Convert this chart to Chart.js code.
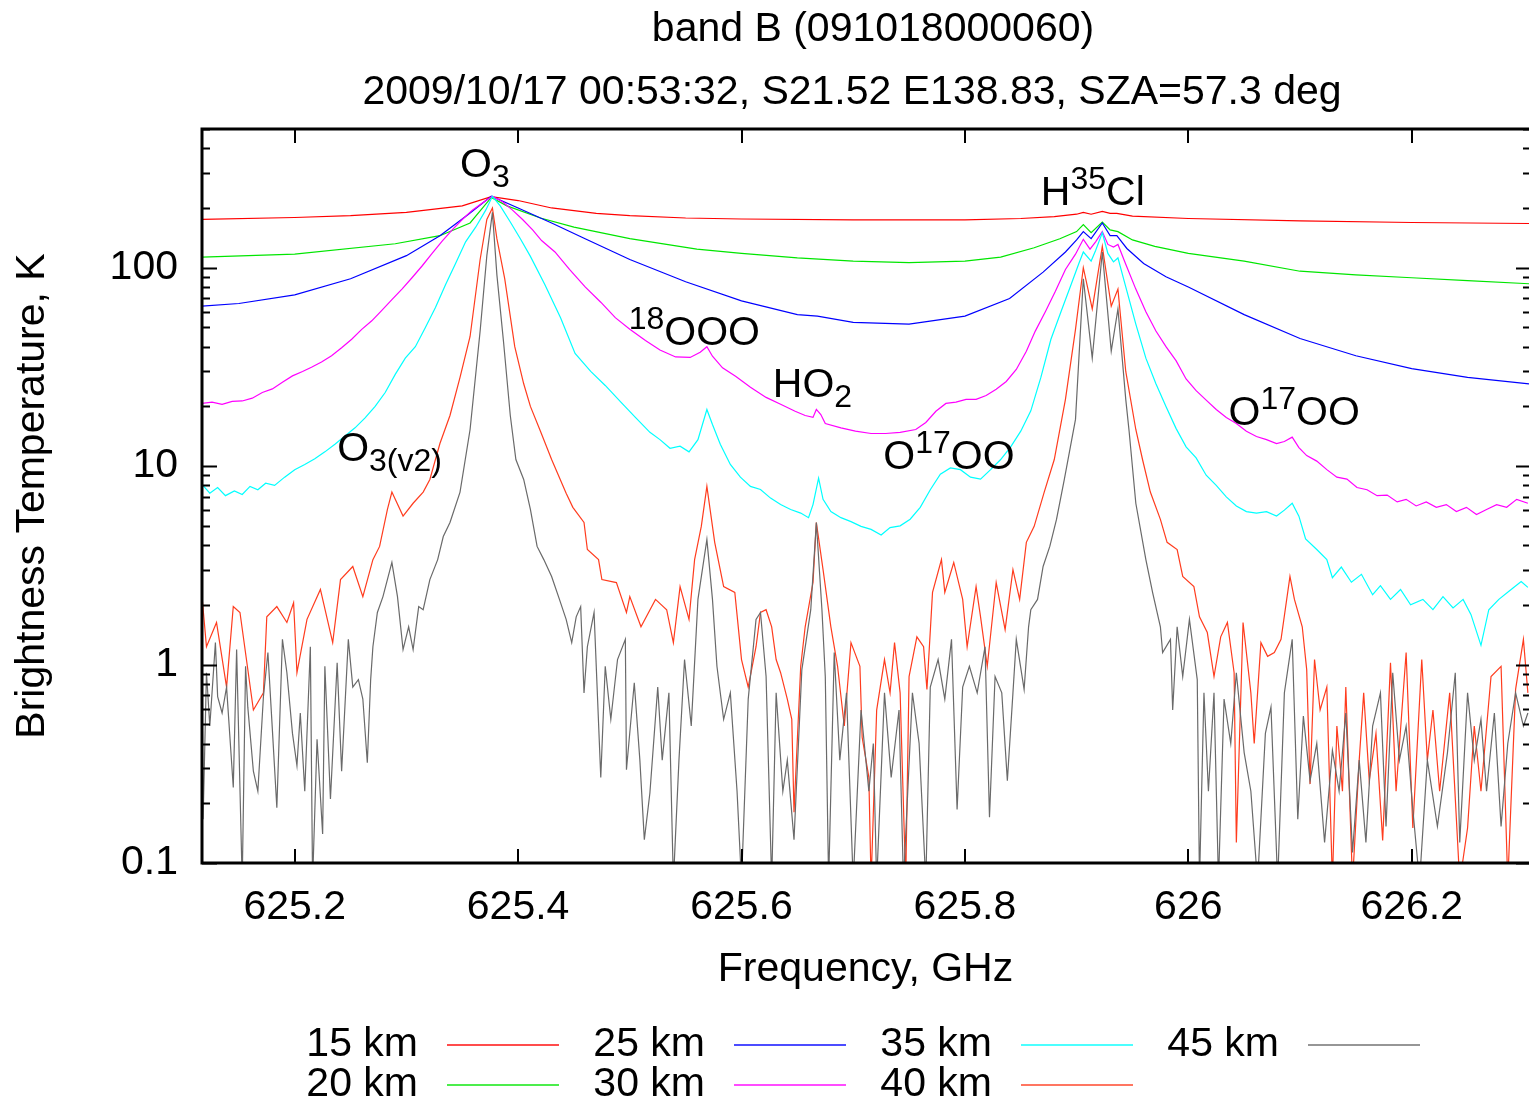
<!DOCTYPE html>
<html>
<head>
<meta charset="utf-8">
<title>band B (091018000060)</title>
<script src="https://cdn.jsdelivr.net/npm/chart.js@4.4.1/dist/chart.umd.min.js"></script>
<style>
  html, body { margin: 0; padding: 0; background: #fff; overflow: hidden; }
  #wrap { position: relative; width: 1529px; height: 1101px; }
</style>
</head>
<body>
<div id="wrap"><canvas id="spectrum" width="1529" height="1101"></canvas></div>
<script>
// --- values (frequency in GHz, Tb in K) ---
const titleLines = ['band B (091018000060)', '2009/10/17 00:53:32, S21.52 E138.83, SZA=57.3 deg'];
const altitudes = ['15 km', '20 km', '25 km', '30 km', '35 km', '40 km', '45 km'];
const lineColors = ['#ff0000', '#00e600', '#0000ff', '#ff00ff', '#00ffff', '#ff3c1e', '#6a6a6a'];
const xTickValues = [625.2, 625.4, 625.6, 625.8, 626.0, 626.2];
const yTickValues = [0.1, 1, 10, 100];

const freq15 = [625.117, 625.2, 625.25, 625.3, 625.35, 625.376, 625.4, 625.43, 625.47, 625.5, 625.55, 625.6, 625.7, 625.8, 625.85, 625.88, 625.9, 625.906, 625.913, 625.923, 625.93, 625.936, 625.95, 626.0, 626.1, 626.2, 626.305];
const tb15 = [175, 179, 183, 190, 205, 228, 218, 200, 188, 183, 178, 176, 174, 174, 177, 181, 186, 190, 186, 192, 188, 188, 182, 177, 172, 169, 167];

const freq20 = [625.117, 625.2, 625.29, 625.33, 625.357, 625.376, 625.39, 625.42, 625.45, 625.5, 625.56, 625.6, 625.65, 625.7, 625.75, 625.8, 625.832, 625.862, 625.885, 625.9, 625.906, 625.913, 625.923, 625.93, 625.937, 625.95, 625.97, 626.0, 626.05, 626.1, 626.15, 626.2, 626.25, 626.305];
const tb20 = [113, 117, 132, 145, 168, 226, 205, 178, 160, 140, 124, 118, 112, 108, 106, 108, 113, 126, 140, 152, 165, 150, 170, 155, 152, 138, 128, 118, 108, 96, 92, 89, 86, 83];

const freq25 = [625.117, 625.15, 625.2, 625.25, 625.3, 625.33, 625.355, 625.376, 625.4, 625.43, 625.46, 625.5, 625.55, 625.6, 625.65, 625.668, 625.7, 625.75, 625.8, 625.84, 625.87, 625.89, 625.9, 625.906, 625.913, 625.923, 625.93, 625.936, 625.945, 625.96, 625.98, 626.0, 626.05, 626.1, 626.15, 626.2, 626.25, 626.305];
const tb25 = [64, 66, 73, 88, 115, 145, 185, 229, 200, 168, 140, 110, 85, 68, 58, 57, 53, 52, 57, 70, 95, 120, 138, 152, 140, 168, 145, 145, 125, 105, 90, 80, 58, 44, 36, 31, 28, 26];

const freq30 = [625.117, 625.126, 625.135, 625.144, 625.153, 625.162, 625.171, 625.18, 625.189, 625.198, 625.207, 625.215, 625.224, 625.233, 625.242, 625.251, 625.26, 625.269, 625.278, 625.287, 625.296, 625.305, 625.314, 625.323, 625.332, 625.341, 625.35, 625.359, 625.368, 625.377, 625.386, 625.395, 625.404, 625.413, 625.421, 625.433, 625.446, 625.46, 625.474, 625.487, 625.5, 625.514, 625.527, 625.541, 625.554, 625.563, 625.569, 625.574, 625.583, 625.595, 625.608, 625.622, 625.635, 625.648, 625.657, 625.664, 625.667, 625.671, 625.675, 625.689, 625.702, 625.716, 625.729, 625.742, 625.756, 625.765, 625.774, 625.783, 625.792, 625.801, 625.81, 625.819, 625.828, 625.837, 625.846, 625.855, 625.863, 625.872, 625.881, 625.89, 625.899, 625.906, 625.912, 625.917, 625.923, 625.928, 625.933, 625.937, 625.944, 625.953, 625.962, 625.971, 625.98, 625.989, 625.998, 626.007, 626.016, 626.025, 626.034, 626.043, 626.052, 626.061, 626.07, 626.079, 626.086, 626.093, 626.099, 626.106, 626.115, 626.124, 626.133, 626.142, 626.151, 626.16, 626.169, 626.178, 626.187, 626.195, 626.204, 626.213, 626.222, 626.231, 626.24, 626.249, 626.258, 626.267, 626.276, 626.285, 626.294, 626.304];
const tb30 = [20.7, 21.0, 20.5, 21.2, 21.3, 22, 23.5, 24.5, 26.5, 28.5, 30, 31.5, 33.5, 36, 39.5, 43.6, 48.9, 54, 61, 69, 78, 89, 102, 118, 136, 155, 175, 195, 212, 229, 215, 195, 175, 155, 137, 120, 98, 80, 67, 56, 49, 43, 38.5, 35.5, 35.3, 37.5, 40, 35.8, 31.3, 28.3, 25, 22.2, 20.5, 18.9, 18, 17.6, 19.3, 18.2, 16.4, 15.6, 15.0, 14.6, 14.6, 14.8, 15.3, 16.6, 18.9, 20.7, 21, 21.7, 21.7, 22.7, 24.4, 26.7, 30.7, 37.9, 47.9, 60, 76, 98, 117, 139, 124, 135, 152, 131, 127, 131, 104, 78, 60, 48, 40, 34, 27.5, 24, 21.5, 19.3, 17.6, 16.4, 15, 14.1, 13.6, 13, 13.3, 14, 12.4, 11.3, 10.6, 9.6, 8.8, 8.6, 7.8, 7.6, 7.1, 7.15, 6.6, 6.8, 6.3, 6.6, 6.2, 6.4, 5.9, 6.2, 5.7, 6.05, 6.4, 6.2, 6.8, 6.5];

const freq35 = [625.117, 625.124, 625.131, 625.138, 625.146, 625.153, 625.16, 625.167, 625.174, 625.182, 625.191, 625.2, 625.209, 625.218, 625.227, 625.236, 625.245, 625.254, 625.263, 625.272, 625.281, 625.29, 625.299, 625.308, 625.317, 625.326, 625.335, 625.344, 625.353, 625.362, 625.371, 625.377, 625.384, 625.393, 625.402, 625.411, 625.424, 625.438, 625.451, 625.465, 625.478, 625.492, 625.505, 625.518, 625.527, 625.536, 625.545, 625.553, 625.561, 625.569, 625.574, 625.581, 625.59, 625.599, 625.608, 625.617, 625.626, 625.635, 625.644, 625.653, 625.66, 625.664, 625.669, 625.673, 625.68, 625.689, 625.698, 625.707, 625.716, 625.725, 625.733, 625.742, 625.751, 625.76, 625.769, 625.778, 625.787, 625.796, 625.805, 625.814, 625.823, 625.832, 625.841, 625.85, 625.859, 625.868, 625.877, 625.886, 625.895, 625.902, 625.906, 625.913, 625.917, 625.923, 625.928, 625.933, 625.937, 625.944, 625.953, 625.962, 625.971, 625.98, 625.989, 625.998, 626.007, 626.016, 626.025, 626.034, 626.043, 626.052, 626.061, 626.07, 626.079, 626.086, 626.093, 626.099, 626.105, 626.115, 626.124, 626.129, 626.137, 626.146, 626.155, 626.165, 626.172, 626.181, 626.19, 626.199, 626.21, 626.219, 626.228, 626.237, 626.246, 626.253, 626.262, 626.269, 626.278, 626.289, 626.298, 626.304];
const tb35 = [8.1, 7.3, 7.8, 7.1, 7.5, 7.2, 7.9, 7.6, 8.2, 8.0, 8.8, 9.6, 10.2, 10.9, 11.8, 12.9, 14.2, 15.6, 17.5, 20.0, 23.5, 29, 35, 40, 50, 63, 82, 105, 135, 160, 195, 229, 205, 170, 140, 114, 82, 56, 37, 30, 25.5, 21, 17.6, 14.8, 13.6, 12.3, 12.6, 11.8, 13.6, 19.3, 16.2, 12.9, 10.2, 8.8, 7.9, 7.63, 6.9, 6.4, 6.05, 5.8, 5.5, 6.4, 8.7, 6.8, 5.9, 5.5, 5.25, 4.97, 4.8, 4.5, 4.9, 5.0, 5.4, 6.2, 7.6, 9.1, 9.8, 9.6, 8.8, 8.6, 9.6, 10.8, 12.5, 15, 19, 28, 43.6, 60, 82, 105, 120, 108, 122, 150, 118, 107, 112, 80, 52, 35, 26, 20, 15.5, 12.5, 11, 9.0, 8.0, 7.0, 6.3, 5.9, 5.8, 5.9, 5.6, 6.0, 6.5, 5.6, 4.3, 3.8, 3.38, 2.74, 3.1, 2.6, 2.85, 2.25, 2.5, 2.13, 2.39, 2.0, 2.13, 1.89, 2.2, 1.93, 2.13, 1.79, 1.25, 1.89, 2.13, 2.39, 2.62, 2.45];

const freq40 = [625.117, 625.121, 625.130, 625.139, 625.145, 625.151, 625.163, 625.172, 625.175, 625.184, 625.193, 625.199, 625.202, 625.211, 625.223, 625.234, 625.241, 625.252, 625.261, 625.270, 625.276, 625.283, 625.287, 625.297, 625.306, 625.315, 625.321, 625.330, 625.339, 625.348, 625.357, 625.366, 625.372, 625.377, 625.381, 625.388, 625.397, 625.405, 625.411, 625.420, 625.430, 625.443, 625.449, 625.459, 625.462, 625.472, 625.475, 625.488, 625.497, 625.500, 625.510, 625.523, 625.533, 625.539, 625.545, 625.553, 625.558, 625.564, 625.569, 625.576, 625.584, 625.594, 625.600, 625.606, 625.613, 625.617, 625.622, 625.627, 625.631, 625.635, 625.641, 625.645, 625.647, 625.653, 625.657, 625.664, 625.667, 625.673, 625.680, 625.686, 625.692, 625.698, 625.706, 625.708, 625.714, 625.716, 625.721, 625.728, 625.733, 625.737, 625.742, 625.747, 625.750, 625.757, 625.763, 625.766, 625.771, 625.779, 625.782, 625.790, 625.798, 625.802, 625.810, 625.814, 625.820, 625.828, 625.836, 625.843, 625.849, 625.855, 625.862, 625.871, 625.880, 625.890, 625.899, 625.906, 625.914, 625.923, 625.931, 625.937, 625.944, 625.953, 625.959, 625.966, 625.975, 625.981, 625.990, 625.995, 626.005, 626.010, 626.017, 626.023, 626.029, 626.035, 626.041, 626.043, 626.049, 626.056, 626.059, 626.065, 626.071, 626.077, 626.083, 626.091, 626.095, 626.102, 626.106, 626.109, 626.113, 626.118, 626.124, 626.129, 626.133, 626.138, 626.141, 626.147, 626.153, 626.157, 626.162, 626.168, 626.174, 626.181, 626.186, 626.195, 626.201, 626.209, 626.214, 626.219, 626.225, 626.234, 626.243, 626.250, 626.256, 626.262, 626.271, 626.280, 626.286, 626.293, 626.300, 626.304];
const tb40 = [2.2, 1.23, 1.63, 0.77, 1.96, 1.83, 0.59, 0.72, 1.74, 1.96, 1.63, 2.05, 0.91, 1.69, 2.39, 1.29, 2.68, 3.12, 2.2, 3.38, 3.94, 6.05, 7.4, 5.6, 6.5, 7.4, 8.57, 13, 18, 28, 45, 110, 175, 200, 140, 88, 40, 26, 20, 15, 10.8, 7.3, 6.2, 5.2, 3.8, 3.38, 2.68, 2.59, 1.83, 2.2, 1.55, 2.13, 1.89, 1.29, 2.47, 1.69, 3.38, 4.97, 7.9, 4.13, 2.47, 2.31, 1.06, 0.77, 1.23, 1.83, 1.89, 1.55, 1.06, 0.91, 0.67, 0.53, 0.18, 0.98, 1.55, 2.59, 5.2, 3.01, 1.55, 0.98, 0.49, 1.29, 0.98, 0.43, 0.27, 0.08, 0.59, 1.06, 0.72, 1.29, 0.72, 0.08, 0.87, 1.38, 1.23, 0.75, 2.31, 3.38, 2.31, 3.27, 2.13, 1.23, 2.47, 1.74, 0.98, 2.59, 1.5, 3.01, 2.13, 4.13, 4.97, 7.4, 10.8, 21.7, 48.9, 100, 62, 128, 64, 78, 30, 15.3, 10.8, 7.4, 5.39, 4.13, 3.8, 2.78, 2.47, 1.74, 1.45, 0.87, 1.38, 1.63, 0.91, 0.127, 1.63, 0.72, 0.40, 1.29, 1.10, 1.15, 1.34, 2.78, 2.13, 1.55, 0.94, 0.25, 1.06, 0.59, 0.77, 0.08, 0.49, 0.23, 0.77, 0.08, 0.33, 0.72, 0.26, 0.45, 0.13, 1.02, 0.23, 1.15, 0.15, 1.06, 0.33, 0.59, 0.23, 0.72, 0.08, 0.15, 0.49, 0.23, 0.87, 0.98, 0.08, 0.75, 1.34, 0.72];

const freq45 = [625.117, 625.118, 625.121, 625.124, 625.129, 625.131, 625.135, 625.139, 625.145, 625.148, 625.153, 625.156, 625.158, 625.163, 625.167, 625.172, 625.176, 625.180, 625.184, 625.189, 625.193, 625.198, 625.202, 625.205, 625.209, 625.214, 625.216, 625.220, 625.225, 625.227, 625.232, 625.238, 625.242, 625.248, 625.252, 625.257, 625.261, 625.265, 625.268, 625.270, 625.274, 625.279, 625.287, 625.292, 625.297, 625.302, 625.306, 625.311, 625.315, 625.321, 625.328, 625.333, 625.339, 625.348, 625.357, 625.366, 625.372, 625.377, 625.381, 625.387, 625.393, 625.398, 625.405, 625.411, 625.417, 625.423, 625.430, 625.437, 625.443, 625.448, 625.452, 625.456, 625.459, 625.462, 625.468, 625.474, 625.478, 625.483, 625.489, 625.496, 625.497, 625.504, 625.509, 625.513, 625.518, 625.525, 625.529, 625.535, 625.539, 625.544, 625.549, 625.555, 625.561, 625.569, 625.574, 625.578, 625.584, 625.590, 625.596, 625.600, 625.606, 625.613, 625.617, 625.622, 625.627, 625.631, 625.637, 625.641, 625.647, 625.654, 625.662, 625.667, 625.672, 625.675, 625.678, 625.683, 625.688, 625.694, 625.700, 625.707, 625.714, 625.718, 625.721, 625.728, 625.734, 625.741, 625.745, 625.753, 625.759, 625.765, 625.769, 625.776, 625.782, 625.788, 625.793, 625.798, 625.804, 625.811, 625.818, 625.822, 625.827, 625.833, 625.838, 625.843, 625.846, 625.853, 625.857, 625.859, 625.865, 625.870, 625.876, 625.882, 625.889, 625.899, 625.906, 625.914, 625.923, 625.931, 625.937, 625.944, 625.947, 625.953, 625.962, 625.968, 625.975, 625.977, 625.984, 625.986, 625.990, 625.995, 626.001, 626.008, 626.010, 626.014, 626.018, 626.023, 626.027, 626.032, 626.038, 626.043, 626.050, 626.056, 626.062, 626.069, 626.074, 626.080, 626.086, 626.093, 626.098, 626.103, 626.109, 626.115, 626.122, 626.129, 626.135, 626.141, 626.147, 626.153, 626.159, 626.165, 626.172, 626.177, 626.183, 626.189, 626.195, 626.201, 626.207, 626.214, 626.223, 626.232, 626.239, 626.243, 626.250, 626.256, 626.262, 626.267, 626.274, 626.280, 626.286, 626.293, 626.300, 626.304];
const tb45 = [0.87, 0.166, 0.91, 0.49, 1.29, 0.69, 0.57, 0.77, 0.24, 1.19, 0.08, 0.98, 0.61, 0.29, 0.23, 0.69, 1.15, 0.47, 0.19, 1.34, 0.91, 0.45, 0.31, 0.57, 0.23, 1.23, 0.08, 0.42, 0.14, 0.98, 0.21, 1.02, 0.29, 1.34, 0.77, 0.84, 0.67, 0.32, 0.84, 1.23, 1.83, 2.2, 3.27, 2.2, 1.19, 1.55, 1.19, 1.96, 1.89, 2.68, 3.38, 4.42, 5.2, 7.4, 15.3, 48, 115, 190, 92, 42, 18, 10.8, 8.57, 6.05, 3.94, 3.38, 2.78, 2.13, 1.69, 1.29, 1.74, 1.96, 0.72, 1.23, 1.83, 0.27, 0.98, 0.53, 1.06, 1.34, 0.295, 0.81, 0.33, 0.131, 0.226, 0.77, 0.33, 0.72, 0.08, 0.33, 1.06, 0.49, 2.13, 4.27, 2.13, 0.98, 0.53, 0.72, 0.23, 0.08, 0.67, 1.69, 1.83, 0.87, 0.08, 0.72, 0.23, 0.33, 0.131, 0.94, 1.89, 5.2, 1.89, 0.87, 0.08, 1.15, 0.33, 0.72, 0.08, 0.59, 0.23, 0.40, 0.08, 0.72, 0.27, 0.59, 0.08, 0.72, 0.40, 0.08, 0.77, 1.06, 0.67, 1.34, 0.186, 0.77, 0.98, 0.72, 1.23, 0.17, 0.87, 0.72, 0.26, 0.72, 1.34, 0.75, 1.55, 1.89, 2.13, 3.12, 3.94, 5.39, 8.57, 17.2, 88, 35, 120, 38, 62, 21.7, 15, 6.5, 3.38, 2.31, 1.55, 1.15, 1.34, 0.59, 1.55, 0.87, 1.69, 0.84, 0.08, 0.72, 0.23, 0.72, 0.08, 0.67, 0.40, 0.91, 0.36, 0.23, 0.08, 0.45, 0.61, 0.08, 0.72, 1.34, 0.166, 0.55, 0.26, 0.40, 0.127, 0.37, 0.23, 0.57, 0.113, 0.33, 0.127, 0.49, 0.72, 0.153, 0.91, 0.33, 0.49, 0.186, 0.08, 0.33, 0.153, 0.36, 0.91, 0.127, 0.72, 0.33, 0.53, 0.23, 0.57, 0.153, 0.40, 0.72, 0.49, 0.57];

// line labels: anchor (GHz, K) at the text baseline start; parts: 0 normal, 1 superscript, -1 subscript
const lineLabels = [
  { f: 625.348, t: 286, parts: [['O', 0], ['3', -1]] },
  { f: 625.868, t: 206, parts: [['H', 0], ['35', 1], ['Cl', 0]] },
  { f: 625.499, t: 41, parts: [['18', 1], ['OOO', 0]] },
  { f: 625.628, t: 22.2, parts: [['HO', 0], ['2', -1]] },
  { f: 625.238, t: 10.6, parts: [['O', 0], ['3(v2)', -1]] },
  { f: 625.727, t: 9.63, parts: [['O', 0], ['17', 1], ['OO', 0]] },
  { f: 626.036, t: 16.2, parts: [['O', 0], ['17', 1], ['OO', 0]] }
];

const FONT = '"Liberation Sans", Arial, Helvetica, sans-serif';
Chart.defaults.font.family = FONT;
Chart.defaults.font.size = 41;
Chart.defaults.color = '#000';

const zip = (fs, ts) => fs.map((f, i) => ({ x: f, y: ts[i] }));
const series = [
  zip(freq15, tb15), zip(freq20, tb20), zip(freq25, tb25), zip(freq30, tb30),
  zip(freq35, tb35), zip(freq40, tb40), zip(freq45, tb45)
];

// frame (right edge falls outside the picture) and inward ticks, gnuplot style
const frameTicks = {
  id: 'frameTicks',
  afterDatasetsDraw(chart) {
    const { ctx, chartArea: a, scales: { x, y } } = chart;
    ctx.save();
    ctx.strokeStyle = '#000';
    ctx.lineWidth = 2;
    ctx.beginPath();
    for (let dec = 0.1; dec < 1000; dec *= 10) {
      for (let m = 1; m <= 9; m++) {
        const v = dec * m;
        if (v < y.min || v > y.max + 1e-9) continue;
        const py = Math.round(y.getPixelForValue(v)) + 0.5;
        const len = m === 1 ? 15 : 8;
        ctx.moveTo(a.left, py); ctx.lineTo(a.left + len, py);
        ctx.moveTo(a.right + 2, py); ctx.lineTo(a.right + 2 - len, py);
      }
    }
    xTickValues.forEach(v => {
      const px = Math.round(x.getPixelForValue(v));
      ctx.moveTo(px, a.bottom); ctx.lineTo(px, a.bottom - 14);
      ctx.moveTo(px, a.top); ctx.lineTo(px, a.top + 14);
    });
    ctx.stroke();
    ctx.lineWidth = 3;
    ctx.beginPath();
    ctx.moveTo(a.right + 5, a.top);
    ctx.lineTo(a.left, a.top);
    ctx.lineTo(a.left, a.bottom);
    ctx.lineTo(a.right + 5, a.bottom);
    ctx.stroke();
    ctx.restore();
  }
};

// molecule labels on the lines
const moleculeLabels = {
  id: 'moleculeLabels',
  afterDatasetsDraw(chart) {
    const { ctx, scales: { x, y } } = chart;
    ctx.save();
    ctx.fillStyle = '#000';
    ctx.textBaseline = 'alphabetic';
    ctx.textAlign = 'left';
    lineLabels.forEach(lab => {
      let px = x.getPixelForValue(lab.f);
      const base = y.getPixelForValue(lab.t);
      lab.parts.forEach(([txt, pos]) => {
        ctx.font = (pos === 0 ? 41 : 32) + 'px ' + FONT;
        const dy = pos === 1 ? -16 : pos === -1 ? 10 : 0;
        ctx.fillText(txt, px, base + dy);
        px += ctx.measureText(txt).width;
      });
    });
    ctx.restore();
  }
};

// title lines and the two-row legend under the plot
const titleAndKey = {
  id: 'titleAndKey',
  afterDraw(chart) {
    const { ctx } = chart;
    ctx.save();
    ctx.fillStyle = '#000';
    ctx.font = '41px ' + FONT;
    ctx.textAlign = 'center';
    ctx.textBaseline = 'alphabetic';
    ctx.fillText(titleLines[0], 873, 41);
    ctx.fillText(titleLines[1], 852, 104);

    ctx.textAlign = 'right';
    ctx.textBaseline = 'middle';
    altitudes.forEach((name, i) => {
      const col = Math.floor(i / 2), row = i % 2;
      const tx = 418 + col * 287;
      const ty = 1045 + row * 40;
      ctx.fillStyle = '#000';
      ctx.fillText(name, tx, ty);
      ctx.strokeStyle = lineColors[i];
      ctx.globalAlpha = 0.7;
      ctx.lineWidth = 2;
      ctx.beginPath();
      ctx.moveTo(tx + 29, ty);
      ctx.lineTo(tx + 141, ty);
      ctx.stroke();
      ctx.globalAlpha = 1;
    });
    ctx.restore();
  }
};

new Chart(document.getElementById('spectrum'), {
  type: 'line',
  data: {
    datasets: series.map((pts, i) => ({
      label: altitudes[i],
      data: pts,
      borderColor: lineColors[i],
      borderWidth: 1.2,
      pointRadius: 0,
      tension: 0,
      order: series.length - i
    }))
  },
  options: {
    responsive: false,
    devicePixelRatio: 1,
    animation: false,
    parsing: false,
    layout: { padding: { top: 129, right: 0, bottom: 100, left: 0 } },
    plugins: {
      legend: { display: false },
      title: { display: false },
      tooltip: { enabled: false }
    },
    scales: {
      x: {
        type: 'linear',
        min: 625.117,
        max: 626.305,
        grid: { display: false },
        border: { display: false },
        afterBuildTicks: s => { s.ticks = xTickValues.map(v => ({ value: v })); },
        afterFit: s => { s.height = 138; },
        ticks: {
          autoSkip: false,
          maxRotation: 0,
          padding: 12,
          callback: v => String(Math.round(v * 10) / 10)
        },
        title: {
          display: true,
          text: 'Frequency, GHz',
          padding: { top: 0, bottom: 7 }
        }
      },
      y: {
        type: 'logarithmic',
        min: 0.1,
        max: 500,
        grid: { display: false },
        border: { display: false },
        afterBuildTicks: s => { s.ticks = yTickValues.map(v => ({ value: v })); },
        afterFit: s => { s.width = 202; },
        ticks: {
          padding: 16,
          callback: v => String(v)
        },
        title: {
          display: true,
          text: 'Brightness Temperature, K',
          padding: { top: 8, bottom: 0 }
        }
      }
    }
  },
  plugins: [frameTicks, moleculeLabels, titleAndKey]
});
</script>
</body>
</html>
